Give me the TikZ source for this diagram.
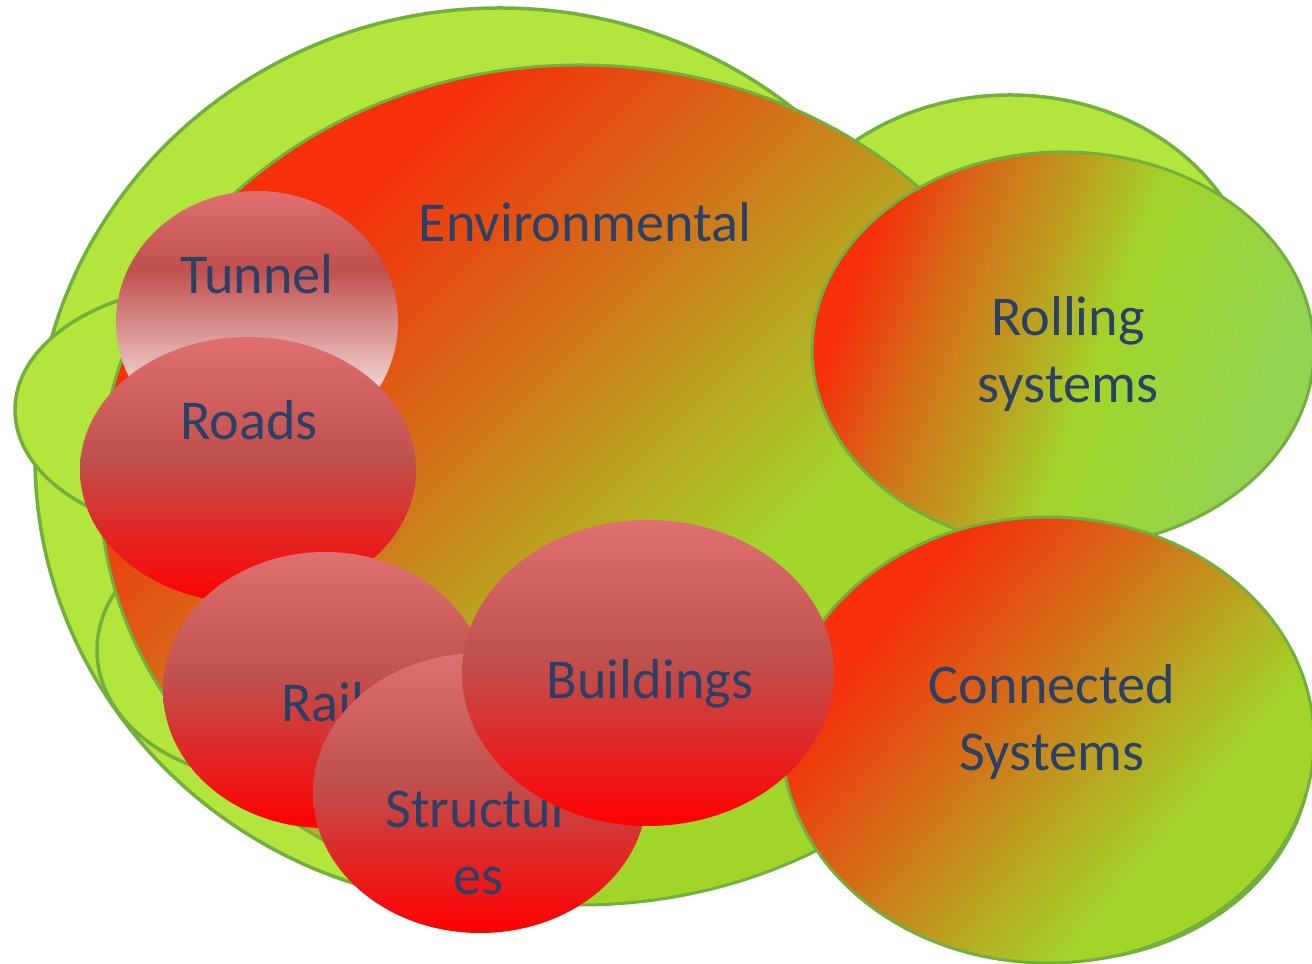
\documentclass[tikz,border=0pt]{standalone}
\usepackage{fontspec}
\setmainfont{Carlito}

\definecolor{leafgreen}{HTML}{B2E63C}
\definecolor{rimgreen}{HTML}{72AF3C}
\definecolor{hotred}{HTML}{F5300A}
\definecolor{hotorange}{HTML}{D56C18}
\definecolor{hotolive}{HTML}{BBA21F}
\definecolor{coolgreen}{HTML}{A2D52A}
\definecolor{palegreen}{HTML}{93D450}
\definecolor{pinkred}{HTML}{E07070}
\definecolor{dullred}{HTML}{C0504D}
\definecolor{purered}{HTML}{FF0000}
\definecolor{inkblue}{HTML}{2A4066}

\pgfdeclarehorizontalshading{heatfade}{100bp}{color(0bp)=(hotred); color(30bp)=(hotred); color(42bp)=(hotorange); color(51bp)=(hotolive); color(60bp)=(coolgreen); color(100bp)=(coolgreen)}
\pgfdeclarehorizontalshading{rollfade}{100bp}{color(0bp)=(hotred); color(27bp)=(hotred); color(36bp)=(hotorange); color(46bp)=(hotolive); color(54bp)=(coolgreen); color(72bp)=(palegreen); color(100bp)=(palegreen)}
\pgfdeclarehorizontalshading{connfade}{100bp}{color(0bp)=(hotred); color(30bp)=(hotred); color(44bp)=(hotorange); color(55bp)=(hotolive); color(66bp)=(coolgreen); color(100bp)=(coolgreen)}
\pgfdeclareverticalshading{redfade}{100bp}{color(0bp)=(purered); color(25bp)=(purered); color(52bp)=(dullred); color(75bp)=(pinkred); color(100bp)=(pinkred)}
\pgfdeclareverticalshading{tunnelfade}{100bp}{color(0bp)=(white); color(30bp)=(white); color(60bp)=(dullred); color(75bp)=(pinkred); color(100bp)=(pinkred)}

\tikzset{
  backblob/.style={fill=leafgreen, draw=rimgreen, line width=0.35mm},
  frontblob/.style={shade, shading=#1, draw=rimgreen, line width=0.3mm},
  redblob/.style={shade, shading=redfade},
  tunnelblob/.style={shade, shading=tunnelfade},
  lbl/.style={text=inkblue, font=\fontsize{16}{19.2}\selectfont, inner sep=0pt, align=center}
}

\begin{document}
\begin{tikzpicture}[x=0.1mm, y=-0.1mm]
			%%%%% START %%%%%
			\fill[white] (0,0) rectangle (1312,964);
			\useasboundingbox (0,0) rectangle (1312,964);
			
			% green rings behind
			\path[backblob] (500,457) ellipse [x radius=465, y radius=449];
			\path[backblob] (215,410) ellipse [x radius=200, y radius=125];
			\path[backblob] (272,650) ellipse [x radius=175, y radius=130];
			\path[backblob] (1010,300) ellipse [x radius=245, y radius=205];
			\path[backblob, rotate around={-8:(1046,738)}] (1046,738) ellipse [x radius=266, y radius=222];
			
			% big coloured ones
			\path[frontblob=heatfade, shading angle=-45] (580,485) ellipse [x radius=480, y radius=420];
			\node[lbl] (envtxt) at (585,222) {Environmental};
			
			\path[frontblob=rollfade, shading angle=-20] (1063,350) ellipse [x radius=251, y radius=198];
			\node[lbl] (rolltxt) at (1068,354) {Rolling\\systems};
			
			\path[frontblob=connfade, shading angle=-40] (1048,740) ellipse [x radius=266, y radius=223];
			\node[lbl] (conntxt) at (1052,722) {Connected\\Systems};
			
			% red ones
			\path[tunnelblob] (257,322) ellipse [x radius=141, y radius=131];
			\node[lbl] (tuntxt) at (257,274) {Tunnel};
			
			\path[redblob] (248,470) ellipse [x radius=168, y radius=133];
			\node[lbl] (roadtxt) at (249,420) {Roads};
			
			\path[redblob] (325,690) ellipse [x radius=162, y radius=138];
			\node[lbl] (railtxt) at (323,702) {Rail};
			
			\path[redblob] (480,793) ellipse [x radius=167, y radius=140];
			\node[lbl] (structxt) at (478,843) {Structur\\es};
			
			\path[redblob] (648,673) ellipse [x radius=186, y radius=153];
			\node[lbl] (buildtxt) at (650,684) {Buildings};
			%%%%% END %%%%%
\end{tikzpicture}
\end{document}
